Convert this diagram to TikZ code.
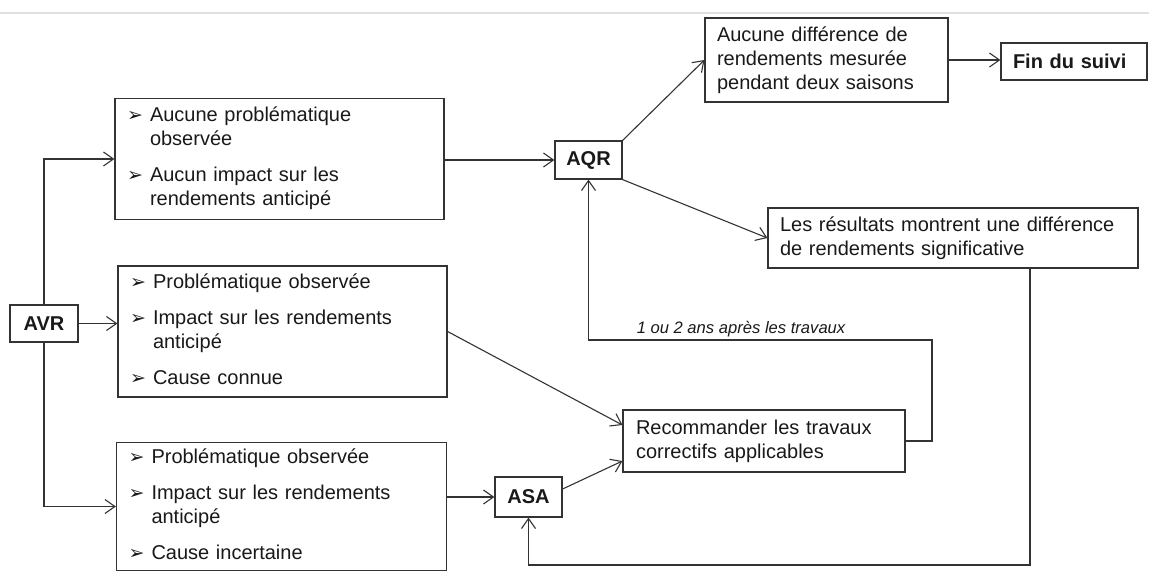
\documentclass[tikz,border=0pt]{standalone}
\usepackage{fontspec}
\setmainfont{Liberation Sans}
\newfontfamily\puceFont{DejaVu Sans}
\usetikzlibrary{arrows.meta,positioning}
\newcommand{\puce}{\makebox[11.5pt][l]{\puceFont\fontsize{9.5}{10}\selectfont ➢}}

\begin{document}
\begin{tikzpicture}[
    x=0.5pt, y=-0.5pt,
    every node/.style={font=\fontsize{10}{12}\selectfont, text=black!90},
    box/.style={rectangle, draw=black!80, line width=0.6pt, inner xsep=6pt, inner ysep=2pt, align=left},
    tag/.style={box, font=\fontsize{10}{12}\selectfont\bfseries, align=center, inner sep=0pt},
    note/.style={font=\fontsize{8.3}{10}\selectfont\itshape, inner sep=1.5pt},
    arrow/.style={-{Straight Barb[length=5pt,width=7pt]}, black!80, line width=0.55pt}
    ]
    \useasboundingbox (0,0) rectangle (1149,573);
    \draw[black!12, line width=1.2pt] (0,13) -- (1149,13);

    \node[tag, minimum width=34pt, minimum height=18.5pt] (AVR) at (44,323.5) {AVR};
    \node[box, text width=152.5pt, minimum height=60.5pt] (S1) at (279.5,159) {%
      \begin{tabular}{@{}l@{}l@{}}
        \puce & Aucune problématique\\ & observée\\[6pt]
        \puce & Aucun impact sur les\\ & rendements anticipé
      \end{tabular}};
    \node[box, text width=152.5pt, minimum height=65.5pt] (S2) at (282.5,331.5) {%
      \begin{tabular}{@{}l@{}l@{}}
        \puce & Problématique observée\\[6pt]
        \puce & Impact sur les rendements\\ & anticipé\\[6pt]
        \puce & Cause connue
      \end{tabular}};
    \node[box, text width=153pt, minimum height=63.5pt] (S3) at (281.5,506.5) {%
      \begin{tabular}{@{}l@{}l@{}}
        \puce & Problématique observée\\[6pt]
        \puce & Impact sur les rendements\\ & anticipé\\[6pt]
        \puce & Cause incertaine
      \end{tabular}};
    \node[tag, minimum width=33.5pt, minimum height=19pt] (AQR) at (588.5,160) {AQR};
    \node[box, text width=109.5pt, minimum height=42pt] (Diff) at (826.5,60) {Aucune différence de\\rendements mesurée\\pendant deux saisons};
    \node[box, text width=61pt, minimum height=18.5pt, font=\fontsize{10}{12}\selectfont\bfseries] (Fin) at (1074,61.5) {Fin du suivi};
    \node[box, text width=173pt, minimum height=30pt] (Res) at (953,238) {Les résultats montrent une différence\\de rendements significative};
    \node[box, text width=128pt, inner xsep=6.5pt, minimum height=31pt] (Trav) at (764,441) {Recommander les travaux\\correctifs applicables};
    \node[tag, minimum width=33.5pt, minimum height=20pt] (ASA) at (528.5,497) {ASA};
    \coordinate (Retour) at (932,340);
    \coordinate (Bas) at (1030,565);

    \draw[arrow] (AVR) |- (S1);
    \draw[arrow] (AVR.east) -- (AVR.east -| S2.west);
    \draw[arrow] (AVR) |- (S3);
    \draw[arrow] (S1.east |- AQR) -- (AQR);
    \draw[arrow] (AQR.north east) -- (Diff.west);
    \draw[arrow] (Diff.east) -- (Diff.east -| Fin.west);
    \draw[arrow] (AQR.south east) -- (Res.west);
    \draw[arrow] (S2.east) -- ([yshift=8pt]Trav.west);
    \draw[arrow] (S3.east |- ASA) -- (ASA);
    \draw[arrow] ([yshift=4pt]ASA.east) -- ([yshift=-10pt]Trav.west);
    \draw[arrow] (Trav.east) -| (Retour) -- node[note, above, pos=0.556] {1 ou 2 ans après les travaux} (Retour -| AQR) -- (AQR);
    \draw[arrow] (Res.south -| Bas) -- (Bas) -| (ASA);
\end{tikzpicture}
\end{document}
